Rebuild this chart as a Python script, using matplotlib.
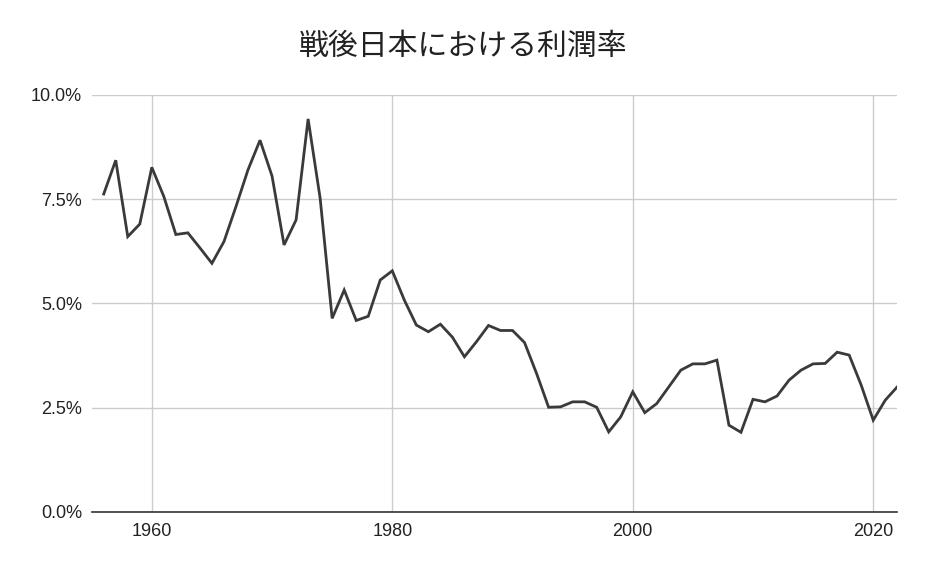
import matplotlib.pyplot as plt
from matplotlib.ticker import FuncFormatter

# 年ごとの利潤率 (%)
years = list(range(1956, 2023))
rates = [7.62, 8.43, 6.60, 6.90, 8.26, 7.56, 6.65, 6.69, 6.33, 5.96,
         6.48, 7.32, 8.20, 8.91, 8.05, 6.40, 7.00, 9.42, 7.52, 4.64,
         5.32, 4.59, 4.69, 5.56, 5.78, 5.08, 4.48, 4.32, 4.50, 4.19,
         3.72, 4.08, 4.47, 4.35, 4.35, 4.06, 3.32, 2.51, 2.52, 2.64,
         2.64, 2.51, 1.92, 2.28, 2.88, 2.38, 2.60, 3.00, 3.40, 3.55,
         3.55, 3.64, 2.08, 1.91, 2.70, 2.64, 2.78, 3.16, 3.40, 3.55,
         3.56, 3.83, 3.76, 3.04, 2.20, 2.68, 3.00]
y_ticks = [0, 2.5, 5.0, 7.5, 10.0]
x_ticks = [1960, 1980, 2000, 2020]
title = "戦後日本における利潤率"

plt.rcParams['font.family'] = ['Liberation Sans', 'DejaVu Sans']

fig = plt.figure(figsize=(9.28, 5.72), dpi=100)
ax = fig.add_axes([0.0988, 0.1049, 0.8681, 0.7295])

ax.plot(years, rates, color='#3a3a3a', linewidth=2.0, solid_joinstyle='miter')

ax.set_xlim(1955, 2022)
ax.set_ylim(0, 10)
ax.set_yticks(y_ticks)
ax.set_xticks(x_ticks)
ax.yaxis.set_major_formatter(FuncFormatter(lambda v, p: f"{v:.1f}%"))
ax.grid(True, color='#cccccc', linewidth=1.0)
ax.set_axisbelow(True)
ax.tick_params(length=0, labelsize=13, colors='#222222')
ax.tick_params(axis='y', pad=7)
ax.tick_params(axis='x', pad=8)
for side in ['top', 'right', 'left']:
    ax.spines[side].set_visible(False)
ax.spines['bottom'].set_color('#333333')
ax.spines['bottom'].set_linewidth(1.2)

fig.text(0.4995, 0.918, title, ha='center', va='center', fontsize=21.5,
         family=['Noto Sans CJK JP', 'DejaVu Sans'], color='#222222')

fig.savefig('out.png', dpi=100)
